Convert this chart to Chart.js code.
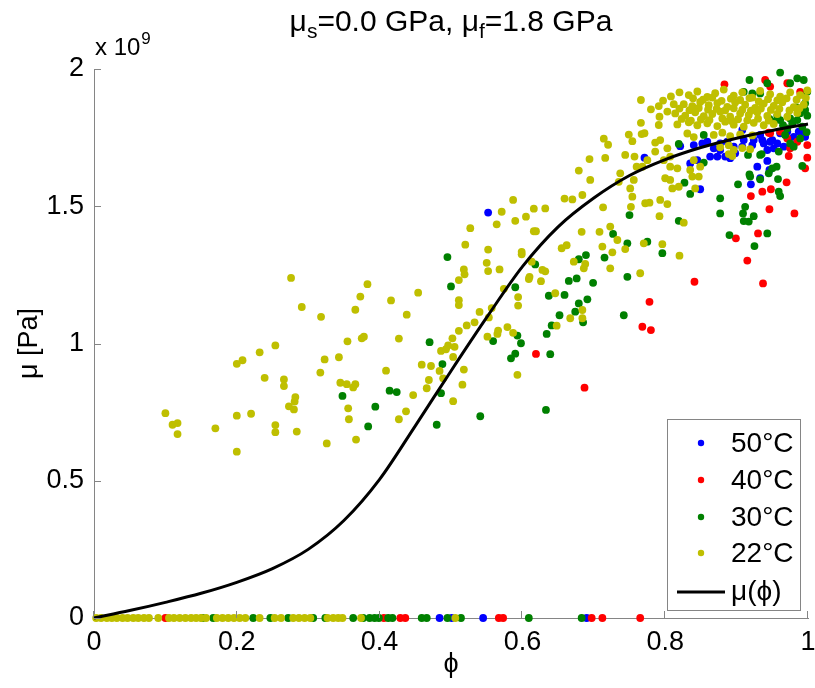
<!DOCTYPE html>
<html>
<head>
<meta charset="utf-8">
<script src="https://cdn.jsdelivr.net/npm/chart.js@4.4.1/dist/chart.umd.min.js"></script>
<style>
  html, body { margin: 0; padding: 0; background: #fff; }
  canvas { display: block; }
</style>
</head>
<body>
<canvas id="chart" width="815" height="688"></canvas>
<script>
/* global Chart */

// shear modulus mu (units of 1e9 Pa) against phase fraction phi, one list per temperature
const pts50 = [
  [0.552, 1.477], [0.771, 1.677], [0.835, 1.656], [0.849, 1.562], [0.920, 1.580], [0.933, 1.602],
  [0.946, 1.632], [0.943, 1.665], [0.821, 1.719], [0.840, 1.723], [0.852, 1.729], [0.868, 1.711],
  [0.877, 1.705], [0.884, 1.681], [0.891, 1.675], [0.898, 1.693], [0.908, 1.717], [0.908, 1.778],
  [0.924, 1.741], [0.933, 1.760], [0.938, 1.729], [0.947, 1.735], [0.961, 1.766], [0.971, 1.772],
  [0.980, 1.753], [0.992, 1.772], [0.996, 1.753], [0.966, 1.717], [0.873, 1.681], [0.922, 1.723],
  [0.952, 1.711], [0.978, 1.723], [0.859, 1.735], [0.877, 1.729], [0.887, 1.735], [0.910, 1.741],
  [0.936, 1.741], [0.943, 1.705], [0.950, 1.741], [0.987, 1.772], [0.957, 1.729], [0.929, 1.644],
  [0.896, 1.717], [0.863, 1.681], [0.845, 1.668],
  [0.484, 0], [0.501, 0], [0.545, 0], [0.690, 0]
]

const pts40 = [
  [0.619, 0.962], [0.883, 1.944], [0.940, 1.960], [0.970, 1.587], [0.948, 1.562], [0.936, 1.553],
  [0.920, 1.537], [0.946, 1.489], [0.981, 1.474], [0.930, 1.401], [0.899, 1.383], [0.915, 1.302],
  [0.841, 1.225], [0.937, 1.219], [0.778, 1.152], [0.768, 1.061], [0.780, 1.049], [0.687, 0.839],
  [0.999, 1.677], [0.996, 1.638], [0.973, 1.683], [0.985, 1.735], [0.999, 1.723], [0.947, 1.936],
  [0.971, 1.948], [0.989, 1.917], [0.947, 1.766], [0.971, 1.747], [0.975, 1.711], [0.961, 1.772],
  [0.945, 1.768],
  [0.100, 0], [0.406, 0], [0.429, 0], [0.436, 0], [0.567, 0], [0.573, 0], [0.697, 0], [0.712, 0],
  [0.765, 0]
]

const pts30 = [
  [0.495, 1.315], [0.500, 1.208], [0.618, 1.288], [0.590, 1.205], [0.637, 1.174], [0.659, 1.177],
  [0.665, 1.228], [0.652, 1.103], [0.641, 1.066], [0.634, 1.035], [0.593, 1.029], [0.598, 1.001],
  [0.559, 1.009], [0.590, 0.963], [0.584, 0.946], [0.639, 0.961], [0.470, 1.005], [0.488, 0.925],
  [0.486, 0.819], [0.414, 0.828], [0.424, 0.823], [0.348, 0.809], [0.394, 0.770], [0.384, 0.698],
  [0.480, 0.704], [0.541, 0.735], [0.633, 0.758],
  [0.918, 1.960], [0.961, 1.987], [0.819, 1.727], [0.827, 1.586], [0.835, 1.545], [0.854, 1.659],
  [0.877, 1.529], [0.877, 1.474], [0.902, 1.580], [0.916, 1.687], [0.918, 1.616], [0.933, 1.598],
  [0.935, 1.690], [0.945, 1.620], [0.956, 1.644], [0.958, 1.599], [0.959, 1.553], [0.961, 1.537],
  [0.992, 1.647], [0.912, 1.498], [0.909, 1.474], [0.924, 1.464], [0.910, 1.446], [0.917, 1.444],
  [0.890, 1.395], [0.925, 1.355], [0.943, 1.401], [0.750, 1.468], [0.727, 1.399], [0.747, 1.365],
  [0.775, 1.371], [0.819, 1.447], [0.796, 1.329], [0.715, 1.313], [0.689, 1.322], [0.679, 1.307],
  [0.747, 1.243], [0.699, 1.221], [0.676, 1.237], [0.691, 1.161], [0.679, 1.146], [0.674, 1.116],
  [0.742, 1.103], [0.685, 1.077],
  [0.943, 1.948], [0.985, 1.966], [0.994, 1.960], [0.975, 1.948], [0.999, 1.917], [0.996, 1.875],
  [0.996, 1.851], [0.989, 1.839], [0.975, 1.820], [0.961, 1.814], [0.952, 1.808], [0.985, 1.814],
  [0.971, 1.784], [0.989, 1.747], [0.975, 1.729], [0.922, 1.911], [0.910, 1.917], [0.933, 1.911],
  [0.933, 1.687], [0.959, 1.699], [0.950, 1.638], [0.919, 1.608], [0.854, 1.760], [0.980, 1.717],
  [0.965, 1.795], [0.978, 1.802], [0.992, 1.790], [0.998, 1.770], [0.968, 1.760], [0.984, 1.860],
  [0.957, 1.830], [0.946, 1.818], [0.999, 1.830],
  [0.152, 0], [0.167, 0], [0.223, 0], [0.247, 0], [0.272, 0], [0.307, 0], [0.324, 0], [0.363, 0],
  [0.377, 0], [0.386, 0], [0.393, 0], [0.399, 0], [0.412, 0], [0.418, 0], [0.459, 0], [0.466, 0],
  [0.495, 0], [0.514, 0], [0.609, 0], [0.683, 0]
]

const pts22 = [
  [0.276, 1.239], [0.291, 1.133], [0.318, 1.097], [0.254, 0.993], [0.232, 0.968], [0.208, 0.939],
  [0.200, 0.926], [0.323, 0.942], [0.317, 0.894], [0.239, 0.875], [0.266, 0.869], [0.266, 0.845],
  [0.282, 0.805], [0.281, 0.789], [0.273, 0.771], [0.280, 0.760], [0.100, 0.746], [0.200, 0.737],
  [0.220, 0.744], [0.110, 0.704], [0.117, 0.710], [0.117, 0.670], [0.170, 0.691], [0.254, 0.703],
  [0.254, 0.677], [0.284, 0.679], [0.200, 0.606], [0.326, 0.636],
  [0.587, 1.523], [0.571, 1.480], [0.564, 1.434], [0.527, 1.420], [0.590, 1.447], [0.605, 1.462],
  [0.616, 1.491], [0.632, 1.492], [0.659, 1.528], [0.616, 1.409], [0.619, 1.409], [0.520, 1.360],
  [0.552, 1.342], [0.550, 1.294], [0.552, 1.264], [0.568, 1.270], [0.599, 1.334], [0.599, 1.325],
  [0.613, 1.298], [0.655, 1.347], [0.662, 1.358], [0.628, 1.268], [0.632, 1.263], [0.610, 1.243],
  [0.609, 1.235], [0.626, 1.227], [0.518, 1.270], [0.519, 1.252], [0.511, 1.231], [0.574, 1.199],
  [0.594, 1.169], [0.594, 1.138], [0.646, 1.183], [0.383, 1.216], [0.373, 1.171], [0.366, 1.123],
  [0.416, 1.157], [0.454, 1.185], [0.438, 1.105], [0.511, 1.158], [0.511, 1.140], [0.540, 1.115],
  [0.553, 1.095], [0.557, 1.129], [0.533, 1.077], [0.522, 1.066], [0.511, 1.046], [0.502, 1.019],
  [0.551, 1.025], [0.565, 1.035], [0.566, 1.047], [0.579, 1.060], [0.587, 1.039], [0.648, 1.065],
  [0.667, 1.092], [0.355, 1.008], [0.375, 1.019], [0.378, 1.025], [0.427, 1.018], [0.343, 0.950],
  [0.486, 0.973], [0.496, 0.993], [0.493, 0.979], [0.505, 0.988], [0.503, 0.951], [0.459, 0.923],
  [0.472, 0.918], [0.484, 0.900], [0.518, 0.905], [0.516, 0.850], [0.489, 0.873], [0.469, 0.867],
  [0.466, 0.837], [0.447, 0.812], [0.409, 0.901], [0.345, 0.857], [0.354, 0.852], [0.366, 0.852],
  [0.363, 0.840], [0.356, 0.764], [0.357, 0.724], [0.437, 0.753], [0.427, 0.724], [0.503, 0.790],
  [0.593, 0.886], [0.367, 0.650],
  [0.766, 1.887], [0.780, 1.853], [0.797, 1.885], [0.791, 1.865], [0.792, 1.826], [0.791, 1.796],
  [0.766, 1.804], [0.767, 1.763], [0.749, 1.761], [0.754, 1.737], [0.771, 1.766], [0.714, 1.746],
  [0.720, 1.724], [0.716, 1.676], [0.694, 1.672], [0.679, 1.630], [0.695, 1.596], [0.744, 1.687],
  [0.757, 1.681], [0.760, 1.644], [0.737, 1.620], [0.756, 1.596], [0.751, 1.565], [0.735, 1.589],
  [0.786, 1.732], [0.786, 1.699], [0.793, 1.741], [0.803, 1.711], [0.807, 1.681], [0.768, 1.644],
  [0.775, 1.668], [0.798, 1.668], [0.807, 1.644], [0.817, 1.638], [0.800, 1.602], [0.807, 1.596],
  [0.835, 1.632], [0.840, 1.668], [0.849, 1.644], [0.838, 1.608], [0.847, 1.608], [0.819, 1.571],
  [0.810, 1.565], [0.842, 1.565], [0.754, 1.535], [0.752, 1.498], [0.772, 1.511], [0.778, 1.513],
  [0.793, 1.523], [0.803, 1.508], [0.713, 1.496], [0.684, 1.541], [0.670, 1.525], [0.792, 1.464],
  [0.826, 1.440], [0.723, 1.426], [0.683, 1.407], [0.708, 1.407], [0.733, 1.377], [0.712, 1.353],
  [0.726, 1.332], [0.744, 1.344], [0.770, 1.365], [0.796, 1.362], [0.820, 1.320], [0.672, 1.298],
  [0.688, 1.290], [0.723, 1.274], [0.765, 1.256], [0.686, 1.274], [0.684, 1.122], [0.684, 1.092],
  [0.833, 1.905], [0.845, 1.918], [0.859, 1.898], [0.870, 1.912], [0.882, 1.925], [0.896, 1.903],
  [0.908, 1.915], [0.922, 1.896], [0.933, 1.920], [0.947, 1.908], [0.961, 1.899], [0.975, 1.915],
  [0.989, 1.905], [0.999, 1.922],
  [0.839, 1.893], [0.853, 1.888], [0.866, 1.896], [0.879, 1.884], [0.892, 1.892], [0.905, 1.887],
  [0.918, 1.894], [0.931, 1.882], [0.944, 1.890], [0.957, 1.886], [0.970, 1.893], [0.984, 1.888],
  [0.997, 1.895],
  [0.826, 1.872], [0.838, 1.865], [0.849, 1.880], [0.861, 1.868], [0.873, 1.876], [0.887, 1.862],
  [0.898, 1.878], [0.912, 1.870], [0.926, 1.858], [0.938, 1.874], [0.952, 1.866], [0.964, 1.879],
  [0.980, 1.861], [0.994, 1.870],
  [0.820, 1.856], [0.834, 1.850], [0.847, 1.858], [0.860, 1.852], [0.872, 1.855], [0.884, 1.849],
  [0.896, 1.857], [0.908, 1.852], [0.920, 1.848], [0.934, 1.856], [0.948, 1.851], [0.960, 1.855],
  [0.974, 1.849], [0.988, 1.857],
  [0.814, 1.838], [0.828, 1.830], [0.842, 1.842], [0.854, 1.828], [0.866, 1.836], [0.877, 1.845],
  [0.891, 1.826], [0.905, 1.838], [0.917, 1.832], [0.929, 1.842], [0.943, 1.829], [0.957, 1.836],
  [0.971, 1.826], [0.985, 1.840],
  [0.823, 1.818], [0.836, 1.812], [0.850, 1.816], [0.862, 1.814], [0.880, 1.820], [0.893, 1.811],
  [0.902, 1.817], [0.915, 1.813], [0.930, 1.819], [0.945, 1.812],
  [0.817, 1.798], [0.833, 1.806], [0.845, 1.795], [0.859, 1.802], [0.873, 1.792], [0.884, 1.808],
  [0.896, 1.797], [0.910, 1.790], [0.924, 1.804], [0.938, 1.795], [0.952, 1.800],
  [0.831, 1.765], [0.840, 1.752], [0.868, 1.760], [0.880, 1.768], [0.891, 1.755], [0.905, 1.762],
  [0.922, 1.758], [0.877, 1.715], [0.889, 1.722], [0.896, 1.705], [0.908, 1.712], [0.919, 1.708],
  [0.889, 1.690], [0.894, 1.683], [0.808, 1.900], [0.812, 1.872], [0.803, 1.845], [0.820, 1.915],
  [0.003, 0], [0.010, 0], [0.018, 0], [0.025, 0], [0.032, 0], [0.040, 0], [0.047, 0], [0.055, 0],
  [0.062, 0], [0.070, 0], [0.077, 0], [0.090, 0], [0.105, 0], [0.112, 0], [0.120, 0], [0.128, 0],
  [0.136, 0], [0.143, 0], [0.150, 0], [0.157, 0], [0.172, 0], [0.180, 0], [0.188, 0], [0.196, 0],
  [0.204, 0], [0.212, 0], [0.232, 0], [0.253, 0], [0.262, 0], [0.279, 0], [0.287, 0], [0.295, 0],
  [0.303, 0], [0.327, 0], [0.335, 0], [0.342, 0], [0.348, 0], [0.374, 0], [0.506, 0]
]

// model curve mu(phi)
const curvePhi = [0, 0.05, 0.1, 0.15, 0.2, 0.25, 0.3, 0.35, 0.4, 0.45, 0.5, 0.55, 0.6, 0.65, 0.7, 0.75, 0.8, 0.85, 0.9, 0.95, 1]
const curveMu = [0, 0.027, 0.057, 0.09, 0.13, 0.18, 0.25, 0.355, 0.505, 0.70, 0.90, 1.095, 1.28, 1.425, 1.53, 1.612, 1.67, 1.714, 1.748, 1.776, 1.80]

const xTicks = [0, 0.2, 0.4, 0.6, 0.8, 1]
const yTicks = [0, 0.5, 1, 1.5, 2]

const FONT = "'Liberation Sans', Arial, sans-serif"
const AXIS_COLOR = '#858585'
const TICK_SIZE = 27

const series = [
  { label: '50°C', color: '#0000ff', pts: pts50 },
  { label: '40°C', color: '#ff0000', pts: pts40 },
  { label: '30°C', color: '#008000', pts: pts30 },
  { label: '22°C', color: '#bfbf00', pts: pts22 }
]
// draw order: lower order ends up on top
const drawOrder = { '50°C': 5, '40°C': 4, '30°C': 3, '22°C': 2 }

const datasets = series.map(s => ({
  type: 'scatter',
  label: s.label,
  data: s.pts.map(([x, y]) => ({ x, y })),
  backgroundColor: s.color,
  borderWidth: 0,
  pointRadius: 3.9,
  pointHoverRadius: 3.9,
  clip: false,
  order: drawOrder[s.label]
}))

datasets.push({
  type: 'line',
  label: 'μ(ϕ)',
  data: curvePhi.map((x, i) => ({ x, y: curveMu[i] })),
  borderColor: '#000',
  borderWidth: 3,
  pointRadius: 0,
  fill: false,
  cubicInterpolationMode: 'monotone',
  clip: false,
  order: 1
})

function drawParts (ctx, parts, cx, baseline) {
  let total = 0
  parts.forEach(p => {
    ctx.font = p.size + 'px ' + FONT
    p.w = ctx.measureText(p.text).width
    total += p.w
  })
  let x = cx - total / 2
  parts.forEach(p => {
    ctx.font = p.size + 'px ' + FONT
    ctx.fillText(p.text, x, baseline + (p.dy || 0))
    x += p.w
  })
}

const overlay = {
  id: 'overlay',
  afterDraw (chart) {
    const ctx = chart.ctx
    const { left, right, bottom } = chart.chartArea
    const xs = chart.scales.x
    const ys = chart.scales.y
    ctx.save()

    // tick marks point into the plot
    ctx.strokeStyle = AXIS_COLOR
    ctx.lineWidth = 1
    ctx.beginPath()
    xTicks.forEach(v => {
      const px = Math.round(xs.getPixelForValue(v)) - 0.5
      ctx.moveTo(px, bottom)
      ctx.lineTo(px, bottom - 7)
    })
    yTicks.forEach(v => {
      const py = Math.round(ys.getPixelForValue(v)) + 0.5
      ctx.moveTo(left, py)
      ctx.lineTo(left + 7, py)
    })
    ctx.stroke()

    ctx.fillStyle = '#000'
    ctx.textAlign = 'left'
    ctx.textBaseline = 'alphabetic'

    // title with subscripts
    drawParts(ctx, [
      { text: 'μ', size: 30 },
      { text: 's', size: 21, dy: 7 },
      { text: '=0.0 GPa, μ', size: 30 },
      { text: 'f', size: 21, dy: 7 },
      { text: '=1.8 GPa', size: 30 }
    ], (left + right) / 2, 31)

    // exponent of the y axis
    ctx.font = '24px ' + FONT
    ctx.fillText('x 10', left + 1, 55)
    const w = ctx.measureText('x 10').width
    ctx.font = '17px ' + FONT
    ctx.fillText('9', left + 2 + w, 44)

    // legend
    const lx = 667
    const ly = 419
    const lw = 133
    const lh = 191
    ctx.fillStyle = '#fff'
    ctx.fillRect(lx, ly, lw, lh)
    ctx.strokeStyle = AXIS_COLOR
    ctx.strokeRect(lx + 0.5, ly + 0.5, lw, lh)
    const rows = [443, 480, 517, 553]
    ctx.textBaseline = 'middle'
    ctx.font = '28px ' + FONT
    series.forEach((s, i) => {
      ctx.fillStyle = s.color
      ctx.beginPath()
      ctx.arc(701, rows[i], 3.2, 0, Math.PI * 2)
      ctx.fill()
      ctx.fillStyle = '#000'
      ctx.fillText(s.label, 731, rows[i] + 1)
    })
    ctx.strokeStyle = '#000'
    ctx.lineWidth = 3
    ctx.beginPath()
    ctx.moveTo(677, 592)
    ctx.lineTo(725, 592)
    ctx.stroke()
    ctx.fillText('μ(ϕ)', 731, 592)
    ctx.restore()
  }
}

new Chart(document.getElementById('chart'), {
  type: 'scatter',
  data: { datasets },
  plugins: [overlay],
  options: {
    responsive: false,
    animation: false,
    events: [],
    layout: { autoPadding: false, padding: { left: 0, top: 69, right: 7, bottom: 0 } },
    plugins: {
      legend: { display: false },
      title: { display: false },
      tooltip: { enabled: false }
    },
    scales: {
      x: {
        type: 'linear',
        min: 0,
        max: 1,
        afterFit: s => {
          s.height = 70
          s.paddingLeft = 0
          s.paddingRight = 0
        },
        afterBuildTicks: s => { s.ticks = xTicks.map(v => ({ value: v })) },
        grid: { display: false, drawTicks: false },
        border: { display: true, color: AXIS_COLOR, width: 1 },
        ticks: {
          color: '#000',
          font: { family: FONT, size: TICK_SIZE },
          padding: 8,
          maxRotation: 0,
          callback: v => String(+v.toFixed(1))
        },
        title: {
          display: true,
          text: 'ϕ',
          color: '#000',
          font: { family: FONT, size: TICK_SIZE },
          padding: { top: 0, bottom: 7 }
        }
      },
      y: {
        type: 'linear',
        min: 0,
        max: 2,
        afterFit: s => {
          s.width = 94
          s.paddingTop = 0
          s.paddingBottom = 0
        },
        afterBuildTicks: s => { s.ticks = yTicks.map(v => ({ value: v })) },
        grid: { display: false, drawTicks: false },
        border: { display: true, color: AXIS_COLOR, width: 1 },
        ticks: {
          color: '#000',
          font: { family: FONT, size: TICK_SIZE },
          padding: 10,
          callback: v => String(+v.toFixed(1))
        },
        title: {
          display: true,
          text: 'μ [Pa]',
          color: '#000',
          font: { family: FONT, size: TICK_SIZE },
          padding: { top: 13, bottom: 0 }
        }
      }
    }
  }
})
</script>
</body>
</html>
